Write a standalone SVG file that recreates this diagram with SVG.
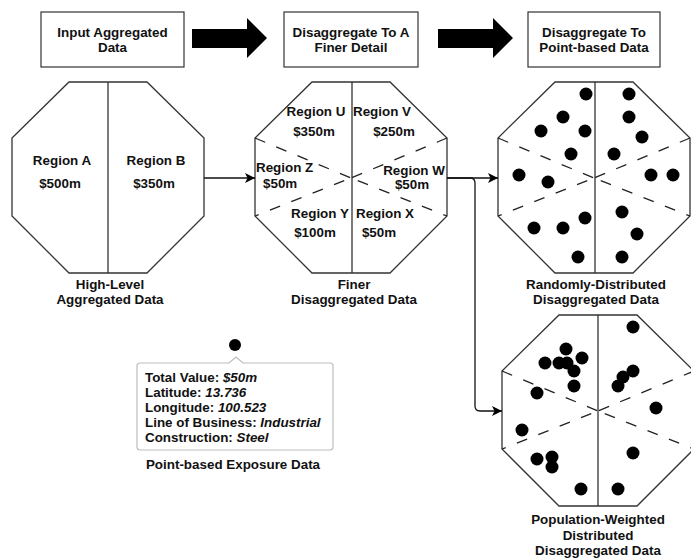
<svg xmlns="http://www.w3.org/2000/svg" width="691" height="559" viewBox="0 0 691 559">
  <style>
    text { font-family: "Liberation Sans", Arial, sans-serif; font-size: 13.4px; font-weight: bold; fill: #111; }
    .c { text-anchor: middle; }
    .i { font-style: italic; }
    .box { fill: #fff; stroke: #333; stroke-width: 1.2; }
    .oct { fill: #fff; stroke: #333; stroke-width: 1.3; }
    .div { stroke: #333; stroke-width: 1.3; fill: none; }
    .dash { stroke: #222; stroke-width: 1.3; fill: none; stroke-dasharray: 11 12; }
    .dash-lo { stroke-dashoffset: 7; }
    .edge { stroke: #111; stroke-width: 1.3; fill: none; }
    .dot { fill: #000; }
  </style>
  <defs>
    <polygon id="octagon" points="57,0 135,0 192,56 192,134 135,191 57,191 0,134 0,56"/>
    <marker id="tri" viewBox="0 0 10 10" refX="10" refY="5" markerWidth="10" markerHeight="10" markerUnits="userSpaceOnUse" orient="auto">
      <path d="M0,0 L10,5 L0,10 L2.5,5 Z" fill="#000"/>
    </marker>
  </defs>

  <!-- step headers -->
  <g id="step-input">
    <rect class="box" x="41" y="12" width="143" height="55"/>
    <text class="c" x="112.5" y="37">Input Aggregated</text>
    <text class="c" x="112.5" y="52">Data</text>
  </g>
  <g id="step-finer">
    <rect class="box" x="284" y="12" width="134" height="55"/>
    <text class="c" x="351" y="37">Disaggregate To A</text>
    <text class="c" x="351" y="52">Finer Detail</text>
  </g>
  <g id="step-points">
    <rect class="box" x="528" y="12" width="132" height="55"/>
    <text class="c" x="594" y="37">Disaggregate To</text>
    <text class="c" x="594" y="52">Point-based Data</text>
  </g>
  <g id="big-arrow-1">
    <polygon points="192,29 247,29 247,18 267,38 247,58 247,48 192,48" fill="#000"/>
  </g>
  <g id="big-arrow-2">
    <polygon points="438,29 493,29 493,18 513,38 493,58 493,48 438,48" fill="#000"/>
  </g>

  <!-- high-level regions -->
  <g id="high-level">
    <use href="#octagon" class="oct" x="12" y="82"/>
    <line class="div" x1="108" y1="82" x2="108" y2="273"/>
    <text class="c" x="62" y="165">Region A</text>
    <text class="c" x="60" y="188">$500m</text>
    <text class="c" x="156" y="165">Region B</text>
    <text class="c" x="154" y="188">$350m</text>
    <text class="c" x="110" y="289">High-Level</text>
    <text class="c" x="110" y="304">Aggregated Data</text>
  </g>

  <!-- finer regions -->
  <g id="finer">
    <use href="#octagon" class="oct" x="255" y="82"/>
    <line class="div" x1="352" y1="82" x2="352" y2="273"/>
    <path class="dash" d="M255,138 L351,178 M447,138 L351,178"/>
    <path class="dash dash-lo" d="M255,216 L351,178 M447,216 L351,178"/>
    <text class="c" x="316" y="116">Region U</text>
    <text class="c" x="314" y="136">$350m</text>
    <text class="c" x="382" y="116">Region V</text>
    <text class="c" x="394" y="136">$250m</text>
    <text x="256" y="172">Region Z</text>
    <text x="263" y="188">$50m</text>
    <text class="c" x="414" y="175">Region W</text>
    <text class="c" x="412" y="189">$50m</text>
    <text class="c" x="320" y="218">Region Y</text>
    <text class="c" x="315" y="237">$100m</text>
    <text class="c" x="385" y="218">Region X</text>
    <text class="c" x="379" y="237">$50m</text>
    <text class="c" x="354" y="289">Finer</text>
    <text class="c" x="354" y="304">Disaggregated Data</text>
  </g>

  <!-- randomly distributed points -->
  <g id="random-points">
    <use href="#octagon" class="oct" x="498" y="82"/>
    <line class="div" x1="595" y1="82" x2="595" y2="273"/>
    <path class="dash" d="M498,138 L594,178 M690,138 L594,178"/>
    <path class="dash dash-lo" d="M498,216 L594,178 M690,216 L594,178"/>
    <g class="dot">
      <circle cx="586" cy="94" r="6.5"/><circle cx="629" cy="94" r="6.5"/>
      <circle cx="563" cy="117" r="6.5"/><circle cx="629" cy="117" r="6.5"/>
      <circle cx="541" cy="131" r="6.5"/><circle cx="585" cy="131" r="6.5"/>
      <circle cx="642" cy="137" r="6.5"/><circle cx="571" cy="154" r="6.5"/>
      <circle cx="614" cy="154" r="6.5"/><circle cx="519" cy="175" r="6.5"/>
      <circle cx="548" cy="182" r="6.5"/><circle cx="651" cy="175" r="6.5"/>
      <circle cx="673" cy="175" r="6.5"/><circle cx="622" cy="212" r="6.5"/>
      <circle cx="585" cy="218" r="6.5"/><circle cx="534" cy="228" r="6.5"/>
      <circle cx="563" cy="228" r="6.5"/><circle cx="637" cy="234" r="6.5"/>
      <circle cx="578" cy="257" r="6.5"/><circle cx="622" cy="257" r="6.5"/>
    </g>
    <text class="c" x="596" y="289">Randomly-Distributed</text>
    <text class="c" x="596" y="304">Disaggregated Data</text>
  </g>

  <!-- population weighted points -->
  <g id="weighted-points">
    <use href="#octagon" class="oct" x="502" y="315"/>
    <line class="div" x1="598" y1="315" x2="598" y2="506"/>
    <path class="dash" d="M502,371 L598,411 M694,371 L598,411"/>
    <path class="dash dash-lo" d="M502,449 L598,411 M694,449 L598,411"/>
    <g class="dot">
      <circle cx="633" cy="327" r="6.5"/><circle cx="566" cy="349" r="6.5"/>
      <circle cx="582" cy="358" r="6.5"/><circle cx="545" cy="363" r="6.5"/>
      <circle cx="559" cy="363" r="6.5"/><circle cx="567" cy="363" r="6.5"/>
      <circle cx="574" cy="371" r="6.5"/><circle cx="633" cy="371" r="6.5"/>
      <circle cx="623" cy="377" r="6.5"/><circle cx="618" cy="386" r="6.5"/>
      <circle cx="574" cy="386" r="6.5"/><circle cx="537" cy="393" r="6.5"/>
      <circle cx="656" cy="408" r="6.5"/><circle cx="522" cy="430" r="6.5"/>
      <circle cx="633" cy="453" r="6.5"/><circle cx="537" cy="459" r="6.5"/>
      <circle cx="552" cy="457" r="6.5"/><circle cx="552" cy="467" r="6.5"/>
      <circle cx="581" cy="489" r="6.5"/><circle cx="618" cy="489" r="6.5"/>
    </g>
    <text class="c" x="598" y="524">Population-Weighted</text>
    <text class="c" x="598" y="540">Distributed</text>
    <text class="c" x="598" y="555">Disaggregated Data</text>
  </g>

  <!-- single exposure point with its attributes -->
  <g id="exposure-point">
    <circle class="dot" cx="235" cy="345" r="6"/>
    <path d="M140,363 L229,363 L236,357 L243,363 L330,363 Q333,363 333,366 L333,447 Q333,450 330,450 L140,450 Q137,450 137,447 L137,366 Q137,363 140,363 Z" fill="#fff" stroke="#bdbdbd" stroke-width="1.2"/>
    <text x="145" y="382">Total Value: <tspan class="i">$50m</tspan></text>
    <text x="145" y="397">Latitude: <tspan class="i">13.736</tspan></text>
    <text x="145" y="412">Longitude: <tspan class="i">100.523</tspan></text>
    <text x="145" y="427">Line of Business: <tspan class="i">Industrial</tspan></text>
    <text x="145" y="442">Construction: <tspan class="i">Steel</tspan></text>
    <text class="c" x="233" y="469">Point-based Exposure Data</text>
  </g>

  <!-- connectors -->
  <g id="connectors">
    <path class="edge" d="M204,178 L255,178" marker-end="url(#tri)"/>
    <path class="edge" d="M447,178 L498,178" marker-end="url(#tri)"/>
    <path class="edge" d="M447,178 L470,178 Q475,178 475,183 L475,406 Q475,411 480,411 L502,411" marker-end="url(#tri)"/>
  </g>
</svg>
